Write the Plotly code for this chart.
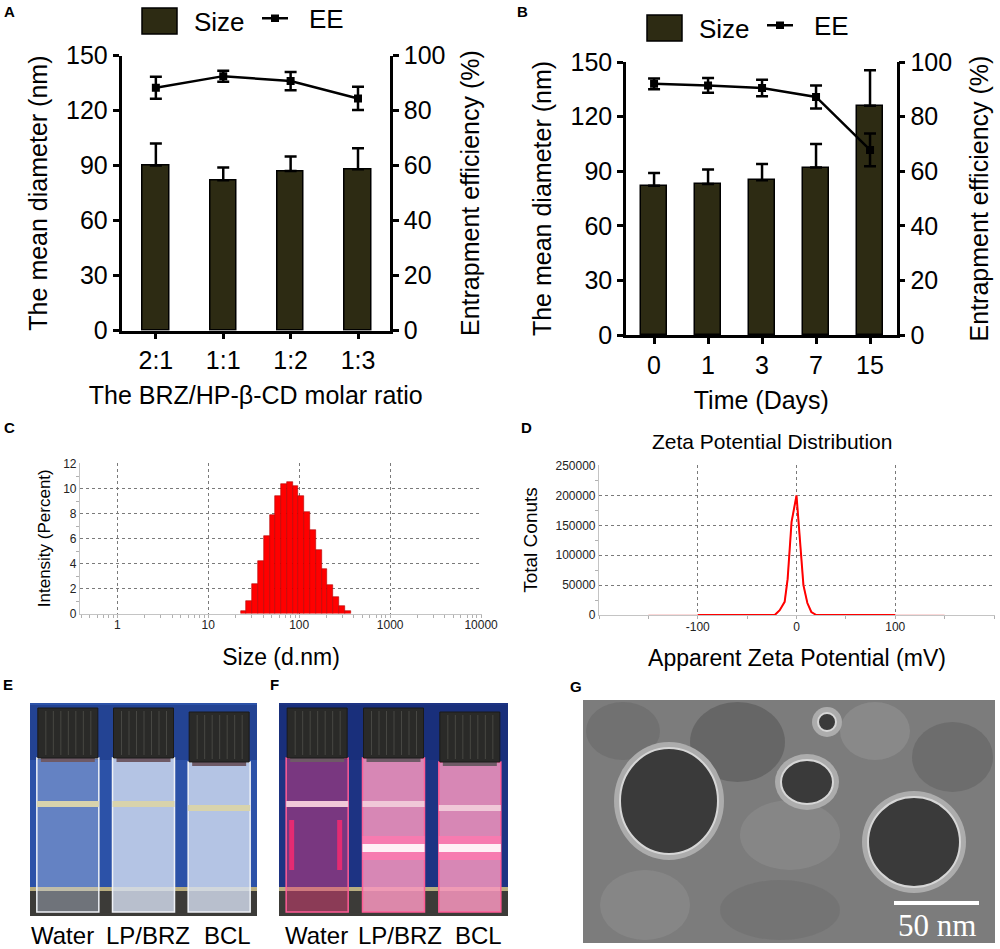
import math
import plotly.graph_objects as go

# ---- A: size / EE vs BRZ:HP-b-CD molar ratio
ratio_labels = ["2:1", "1:1", "1:2", "1:3"]
ratio_size = [90, 82, 87, 88]
ratio_size_sd = [12, 7, 8, 11.5]
ratio_ee = [88.3, 92.5, 90.7, 84.4]
ratio_ee_sd = [4, 2, 3.3, 4.2]

# ---- B: size / EE over storage time
day_labels = ["0", "1", "3", "7", "15"]
day_size = [82, 83, 85, 92, 126]
day_size_sd = [7, 8, 9, 13, 19.5]
day_ee = [92.0, 91.4, 90.5, 87.2, 67.8]
day_ee_sd = [2, 2.7, 3, 4.2, 6]

# ---- C: DLS intensity distribution
dls_size = [24.36, 28.21, 32.67, 37.84, 43.82, 50.75, 58.77, 68.06, 78.82, 91.28,
            105.7, 122.4, 141.8, 164.2, 190.1, 220.2, 255.0, 295.3, 342.0]
dls_intensity = [0.2, 1.0, 2.4, 4.2, 6.2, 7.9, 9.4, 10.35, 10.55, 10.2,
                 9.4, 8.1, 6.7, 5.1, 3.6, 2.3, 1.3, 0.6, 0.2]
size_ticks = [1, 10, 100, 1000, 10000]

# ---- D: zeta potential distribution
zeta_mv = [-150, -100, -50, -22, -17, -12, -9, -5, 0, 3, 7, 11, 15, 20, 50, 100, 150]
zeta_counts = [0, 0, 0, 0, 8000, 22000, 60000, 156000, 200000, 140000, 50000,
               20000, 5000, 0, 0, 0, 0]

FONT = "Liberation Sans, Arial, sans-serif"
BAR = "#2d2b13"
W, H = 1000, 949


def px(x):
    return x / W


def py(y):
    return 1 - y / H


shapes = []
annotations = []


def box(x0, y0, x1, y1, fill, line=None, lw=0, kind="rect", opacity=1):
    shapes.append(dict(type=kind, xref="paper", yref="paper",
                       x0=px(x0), x1=px(x1), y0=py(y1), y1=py(y0),
                       fillcolor=fill, opacity=opacity,
                       line=dict(color=line or fill, width=lw)))


def text(x, y, s, size, color="black", bold=False, family=FONT, xanchor="center"):
    annotations.append(dict(x=px(x), y=py(y), xref="paper", yref="paper",
                            text=f"<b>{s}</b>" if bold else s, showarrow=False,
                            xanchor=xanchor, yanchor="middle",
                            font=dict(size=size, color=color, family=family)))


fig = go.Figure()

# bars + EE lines for A and B
for xa, ya, ya2, cats, size, sd, ee, eesd, bw in [
    ("x", "y", "y2", ratio_labels, ratio_size, ratio_size_sd, ratio_ee, ratio_ee_sd, 0.39),
    ("x2", "y3", "y4", day_labels, day_size, day_size_sd, day_ee, day_ee_sd, 0.49),
]:
    fig.add_trace(go.Bar(x=cats, y=size, width=bw, xaxis=xa, yaxis=ya,
                         marker=dict(color=BAR, line=dict(color="black", width=1.5)),
                         error_y=dict(type="data", array=sd, arrayminus=[0] * len(sd),
                                      symmetric=False, color="black", thickness=2.5, width=6)))
    fig.add_trace(go.Scatter(x=cats, y=ee, xaxis=xa, yaxis=ya2, mode="lines+markers",
                             line=dict(color="black", width=2.5),
                             marker=dict(symbol="square", size=8, color="black"),
                             error_y=dict(type="data", array=eesd, color="black",
                                          thickness=2.5, width=6)))

# C histogram: bin edges half-way (in log space) between size classes
step = math.sqrt(dls_size[1] / dls_size[0])
fig.add_trace(go.Bar(x=dls_size, y=dls_intensity, xaxis="x3", yaxis="y5",
                     width=[s * step - s / step for s in dls_size],
                     offset=[s / step - s for s in dls_size],
                     marker=dict(color="#ff0000", line=dict(color="#b30000", width=0.6))))

# D zeta curve
fig.add_trace(go.Scatter(x=zeta_mv, y=zeta_counts, xaxis="x4", yaxis="y6", mode="lines",
                         line=dict(color="#f7b3b3", width=1.2)))
inner = [(m, c) for m, c in zip(zeta_mv, zeta_counts) if abs(m) <= 100]
fig.add_trace(go.Scatter(x=[m for m, _ in inner], y=[c for _, c in inner],
                         xaxis="x4", yaxis="y6", mode="lines",
                         line=dict(color="#ff0000", width=2)))

blk = dict(showline=True, linecolor="black", linewidth=2.5, ticks="outside", ticklen=6,
           tickwidth=2.5, tickcolor="black", showgrid=False, zeroline=False,
           tickfont=dict(size=25, color="black"))
thin = dict(showline=True, linecolor="#c4c4c4", linewidth=1.2, ticks="", showgrid=True,
            gridcolor="#7a7a7a", griddash="dot", gridwidth=1.2, zeroline=False,
            tickfont=dict(size=12, color="#222"))

fig.update_layout(
    template="none", width=W, height=H, showlegend=False,
    margin=dict(l=0, r=0, t=0, b=0), font=dict(family=FONT, color="black"),
    paper_bgcolor="white", plot_bgcolor="rgba(0,0,0,0)", bargap=0,
    # A
    xaxis=dict(blk, domain=[0.1215, 0.390], anchor="y", type="category", range=[-0.51, 3.475],
               title=dict(text="The BRZ/HP-β-CD molar ratio", font=dict(size=25), standoff=14)),
    yaxis=dict(blk, domain=[py(330.7), py(55.5)], anchor="x", range=[0, 150], dtick=30,
               title=dict(text="The mean diameter (nm)", font=dict(size=25), standoff=12)),
    yaxis2=dict(blk, overlaying="y", anchor="x", side="right", range=[0, 100], dtick=20,
                title=dict(text="Entrapment efficiency (%)", font=dict(size=25), standoff=18)),
    # B
    xaxis2=dict(blk, domain=[0.626, 0.8967], anchor="y3", type="category", range=[-0.52, 4.494],
                title=dict(text="Time (Days)", font=dict(size=25), standoff=14)),
    yaxis3=dict(blk, domain=[py(335), py(62)], anchor="x2", range=[0, 150], dtick=30,
                title=dict(text="The mean diameter (nm)", font=dict(size=25), standoff=12)),
    yaxis4=dict(blk, overlaying="y3", anchor="x2", side="right", range=[0, 100], dtick=20,
                title=dict(text="Entrapment efficiency (%)", font=dict(size=25), standoff=20)),
    # C
    xaxis3=dict(thin, domain=[0.080, 0.482], anchor="y5", type="log", range=[-0.41, 4.01],
                tickvals=size_ticks, ticktext=[str(v) for v in size_ticks],
                minor=dict(ticks="outside", ticklen=3, tickcolor="#b0b0b0", dtick="D1", showgrid=False),
                title=dict(text="Size (d.nm)", font=dict(size=23), standoff=17)),
    yaxis5=dict(thin, domain=[py(613.5), py(463)], anchor="x3", range=[0, 12.05], dtick=2,
                minor=dict(ticks="outside", ticklen=3, tickcolor="#b0b0b0", dtick=1, showgrid=False),
                title=dict(text="Intensity (Percent)", font=dict(size=17), standoff=8)),
    # D
    xaxis4=dict(thin, domain=[0.599, 0.995], anchor="y6", range=[-200, 201],
                tickvals=[-100, 0, 100, 200], ticktext=["-100", "0", "100", ""],
                minor=dict(ticks="outside", ticklen=3, tickcolor="#b0b0b0", dtick=50, showgrid=False),
                title=dict(text="Apparent Zeta Potential (mV)", font=dict(size=23), standoff=17)),
    yaxis6=dict(thin, domain=[py(615), py(465)], anchor="x4", range=[0, 251000], dtick=50000,
                tickformat="d",
                minor=dict(ticks="outside", ticklen=3, tickcolor="#b0b0b0", dtick=25000, showgrid=False),
                title=dict(text="Total Conuts", font=dict(size=19), standoff=12)),
)

# legends for A and B
for lx, ly in [(142, 8), (647, 15)]:
    box(lx, ly, lx + 35, ly + 26, BAR, "black", 1.5)
    text(lx + 50, ly + 14, "Size", 26, xanchor="left")
    box(lx + 120, ly + 9, lx + 146, ly + 11.5, "black")
    box(lx + 129, ly + 6.5, lx + 137, ly + 14, "black")
    text(lx + 165, ly + 11, "EE", 26, xanchor="left")

text(772, 441, "Zeta Potential Distribution", 21)

# panel letters
for s, x, y in [("A", 9, 12), ("B", 522, 12), ("C", 9, 427), ("D", 526, 427),
                ("E", 8, 684), ("F", 274, 684), ("G", 576, 686)]:
    text(x, y, s, 15, bold=True)

# photo E (vials under room light) and F (laser beam)
for x0, x1, bg, glow in [(30, 257, "#2c52a8", False), (279, 508, "#1d3383", True)]:
    box(x0, 703, x1, 916, bg)
    box(x0, 705, x1, 760, "rgba(20,40,110,0.35)")
    box(x0, 890, x1, 916, "#3c3b38")
    box(x0, 887, x1, 891, "#b8ad80")
    w = (x1 - x0) / 3
    for i, milky in enumerate([False, True, True]):
        cx = x0 + w * (i + 0.5)
        top = 708 + (4 if i == 2 else 0)
        if glow:
            body = "rgba(235,60,125,0.45)" if not milky else "rgba(248,150,190,0.85)"
            edge = "#ff5c96"
        else:
            body = "rgba(205,220,245,0.35)" if not milky else "rgba(215,225,242,0.8)"
            edge = "#eef1f6"
        box(cx - 31, top + 50, cx + 31, 912, body, edge, 1.5)
        level = top + 96
        box(cx - 31, level - 3, cx + 31, level + 3, "#f0c8d8" if glow else "#d8d3ac")
        if glow and milky:
            box(cx - 31, 836, cx + 31, 860, "rgba(255,120,175,0.8)")
            box(cx - 31, 844, cx + 31, 852, "#fff0f6")
        if glow and not milky:
            box(cx - 28, 820, cx - 23, 870, "rgba(255,40,110,0.8)")
            box(cx + 20, 820, cx + 25, 870, "rgba(255,40,110,0.8)")
        box(cx - 27, top + 46, cx + 27, top + 54, "#6e5a66")
        box(cx - 30, top, cx + 30, top + 50, "#2a2a28", "#1a1a1a", 1)
        for k in range(1, 8):
            box(cx - 30 + k * 7.5, top + 3, cx - 29 + k * 7.5, top + 47, "#474743")

labels_e = ["Water", "LP/BRZ", "BCL"]
for xs in [(62, 148, 227), (316, 400, 478)]:
    for x, s in zip(xs, labels_e):
        text(x, 935, s, 24)

# photo G (TEM), soft patches kept inside the frame
box(583, 700, 995, 943, "#7c7c7c")
for x0, y0, x1, y1, c in [(690, 702, 785, 782, "#5f5f5f"), (912, 722, 993, 792, "#686868"),
                          (586, 702, 660, 760, "#6e6e6e"), (600, 870, 690, 940, "#8a8a8a"),
                          (720, 880, 840, 940, "#727272"), (840, 702, 910, 760, "#8e8e8e"),
                          (740, 800, 840, 870, "#8a8a8a")]:
    box(x0, y0, x1, y1, c, kind="circle", opacity=0.75)
for cx, cy, rx, ry in [(669, 801, 49, 53), (807, 782, 26, 22), (914, 842, 46, 45), (827, 722, 9, 9)]:
    box(cx - rx - 6, cy - ry - 6, cx + rx + 6, cy + ry + 6, "#acacac", kind="circle")
    box(cx - rx, cy - ry, cx + rx, cy + ry, "#3a3a3a", "#d6d6d6", 2, kind="circle")
box(894, 901, 979, 905, "white")
text(937, 925, "50 nm", 31, color="white", family="Liberation Serif, Times New Roman, serif")

fig.update_layout(shapes=shapes, annotations=annotations)
fig.write_html("out.html", config={"displayModeBar": False},
               post_script="document.body.style.margin = '0';")
